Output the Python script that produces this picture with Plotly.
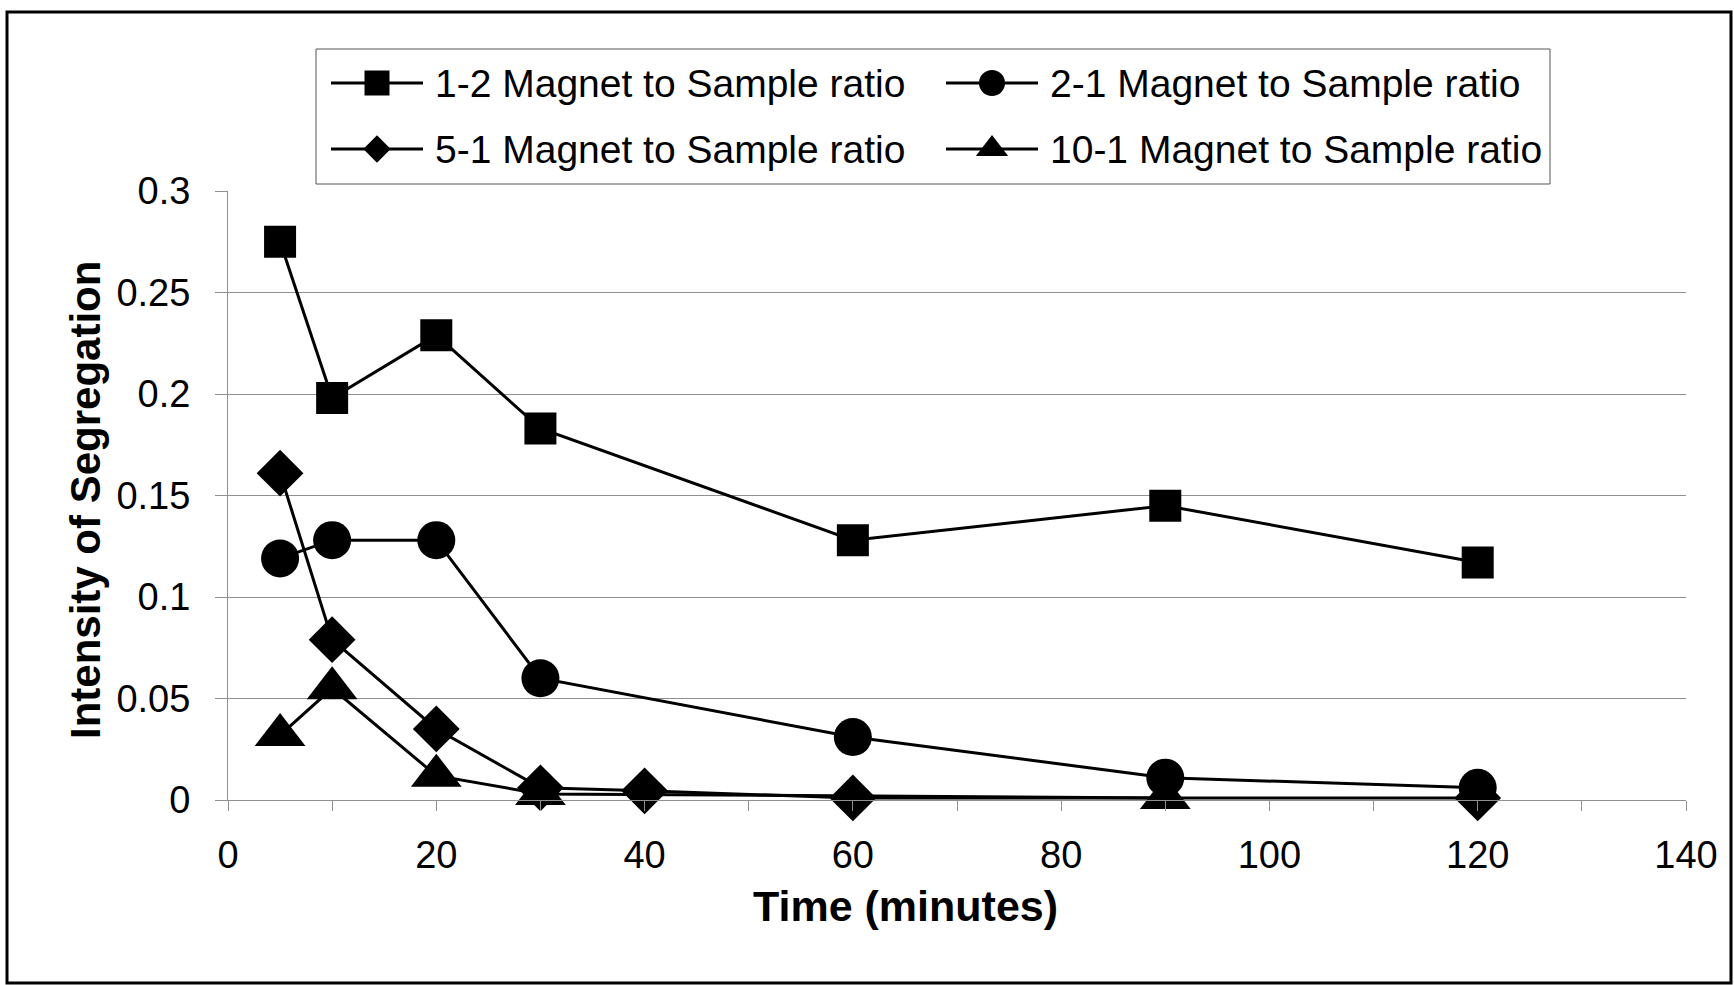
import plotly.graph_objects as go

# Sampling times (minutes) and intensity of segregation for each magnet-to-sample ratio
time_1_2 = [5, 10, 20, 30, 60, 90, 120]
seg_1_2 = [0.275, 0.198, 0.229, 0.183, 0.128, 0.145, 0.117]

time_2_1 = [5, 10, 20, 30, 60, 90, 120]
seg_2_1 = [0.119, 0.128, 0.128, 0.060, 0.031, 0.011, 0.006]

time_5_1 = [5, 10, 20, 30, 40, 60, 120]
seg_5_1 = [0.161, 0.079, 0.035, 0.006, 0.0045, 0.001, 0.001]

time_10_1 = [5, 10, 20, 30, 90]
seg_10_1 = [0.032, 0.055, 0.012, 0.003, 0.001]

names = ["1-2 Magnet to Sample ratio", "2-1 Magnet to Sample ratio",
         "5-1 Magnet to Sample ratio", "10-1 Magnet to Sample ratio"]

x_ticks = [0, 20, 40, 60, 80, 100, 120, 140]
y_ticks = [0, 0.05, 0.1, 0.15, 0.2, 0.25, 0.3]
y_tick_text = ["0", "0.05", "0.1", "0.15", "0.2", "0.25", "0.3"]

x_title = "Time (minutes)"
y_title = "Intensity of Segregation"

W, H = 1734, 985
FONT = "Arial, 'Liberation Sans', sans-serif"
INK = "#000000"
GRID = "#8f8f8f"

series = [
    dict(name=names[0], x=time_1_2, y=seg_1_2, symbol="square", size=32, key_size=25),
    dict(name=names[1], x=time_2_1, y=seg_2_1, symbol="circle", size=38, key_size=26),
    dict(name=names[2], x=time_5_1, y=seg_5_1, symbol="diamond", size=36, key_size=21),
    dict(name=names[3], x=time_10_1, y=seg_10_1, symbol="triangle-up", size=44, key_size=28),
]

fig = go.Figure()
for s in series:
    fig.add_trace(go.Scatter(
        x=s["x"], y=s["y"], name=s["name"], mode="lines+markers",
        line=dict(color=INK, width=3),
        marker=dict(symbol=s["symbol"], size=s["size"], color=INK, line=dict(width=0)),
        cliponaxis=False, showlegend=False,
    ))

# Boxed two-column key drawn on a full-figure, pixel-scaled axis pair
key_rows = [83, 149]
key_cols = [(331, 423, 433), (946, 1038, 1048)]
for i, s in enumerate(series):
    row, col = i // 2, i % 2
    x0, x1, xt = key_cols[col]
    yy = key_rows[row]
    fig.add_trace(go.Scatter(
        x=[x0, x1], y=[yy, yy], mode="lines", line=dict(color=INK, width=3),
        xaxis="x2", yaxis="y2", showlegend=False, hoverinfo="skip", cliponaxis=False,
    ))
    fig.add_trace(go.Scatter(
        x=[(x0 + x1) / 2], y=[yy], mode="markers",
        marker=dict(symbol=s["symbol"], size=s["key_size"], color=INK, line=dict(width=0)),
        xaxis="x2", yaxis="y2", showlegend=False, hoverinfo="skip", cliponaxis=False,
    ))
    fig.add_annotation(
        x=xt, y=yy, xref="x2", yref="y2", text=s["name"], showarrow=False,
        xanchor="left", yanchor="middle", font=dict(family=FONT, size=39, color=INK),
    )

fig.add_shape(type="rect", xref="x2", yref="y2", x0=316, x1=1550, y0=49, y1=184,
              line=dict(color="#555555", width=1), fillcolor="rgba(0,0,0,0)", layer="below")

# Outer chart frame
fig.add_shape(type="rect", xref="x2", yref="y2", x0=7, x1=1731, y0=12, y1=983,
              line=dict(color=INK, width=3), fillcolor="rgba(0,0,0,0)")

# Axis titles
fig.add_annotation(
    x=905, y=906, xref="x2", yref="y2", text=f"<b>{x_title}</b>", showarrow=False,
    xanchor="center", yanchor="middle", font=dict(family=FONT, size=43, color=INK),
)
fig.add_annotation(
    x=85, y=500, xref="x2", yref="y2", text=f"<b>{y_title}</b>", showarrow=False,
    textangle=-90, xanchor="center", yanchor="middle", font=dict(family=FONT, size=42, color=INK),
)

x_dom = [228 / W, 1686 / W]
y_dom = [(H - 800) / H, (H - 191) / H]

fig.update_layout(
    width=W, height=H,
    margin=dict(l=0, r=0, t=0, b=0, autoexpand=False),
    paper_bgcolor="white", plot_bgcolor="rgba(0,0,0,0)",
    font=dict(family=FONT, color=INK),
    xaxis=dict(
        domain=x_dom, range=[0, 140], tickvals=x_ticks, automargin=False,
        ticks="outside", ticklen=10, tickcolor=GRID, tickwidth=1,
        minor=dict(dtick=10, tick0=0, ticks="outside", ticklen=10, tickcolor=GRID, showgrid=False),
        showgrid=False, zeroline=False, showline=True, linecolor=GRID, linewidth=1,
        tickfont=dict(size=38, family=FONT, color=INK), ticklabelstandoff=11,
    ),
    yaxis=dict(
        domain=y_dom, range=[0, 0.3], tickvals=y_ticks, ticktext=y_tick_text, automargin=False,
        ticks="outside", ticklen=12, tickcolor=GRID, tickwidth=1,
        showgrid=True, gridcolor=GRID, gridwidth=1, zeroline=False,
        showline=True, linecolor=GRID, linewidth=1,
        tickfont=dict(size=38, family=FONT, color=INK), ticklabelstandoff=17,
    ),
    xaxis2=dict(domain=[0, 1], range=[0, W], anchor="y2", visible=False, fixedrange=True, automargin=False),
    yaxis2=dict(domain=[0, 1], range=[H, 0], anchor="x2", visible=False, fixedrange=True, automargin=False),
)

fig.write_html("out.html")
